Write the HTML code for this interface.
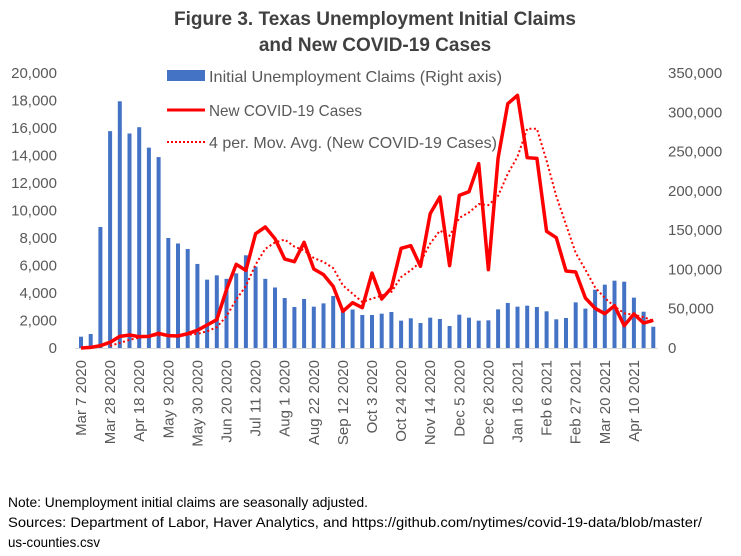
<!DOCTYPE html>
<html><head><meta charset="utf-8">
<style>
body{margin:0;background:#fff;width:741px;height:556px;overflow:hidden;font-family:"Liberation Sans",sans-serif;}
svg{display:block}
</style></head>
<body>
<svg id="chart" width="741" height="556" xmlns="http://www.w3.org/2000/svg">
  <text x="375" y="25" text-anchor="middle" font-size="19" font-weight="bold" fill="#404040">Figure 3. Texas Unemployment Initial Claims</text>
  <text x="375" y="51" text-anchor="middle" font-size="19" font-weight="bold" fill="#404040">and New COVID-19 Cases</text>
  <g id="left-axis"></g>
  <g id="right-axis"></g>
  <g id="bars"></g>
  <line x1="75" y1="348.5" x2="658" y2="348.5" stroke="#d9d9d9" stroke-width="1"/>
  <g id="lines"></g>
  <g id="x-axis"></g>
  <g>
    <rect x="167" y="70" width="38" height="11" fill="#4472c4"/>
    <text x="209" y="82" font-size="16" fill="#595959" textLength="293" lengthAdjust="spacingAndGlyphs">Initial Unemployment Claims (Right axis)</text>
    <line x1="167" y1="110" x2="205" y2="110" stroke="#ff0000" stroke-width="3"/>
    <text x="209" y="116" font-size="16" fill="#595959" textLength="153" lengthAdjust="spacingAndGlyphs">New COVID-19 Cases</text>
    <line x1="167" y1="142" x2="205" y2="142" stroke="#ff0000" stroke-width="2" stroke-dasharray="2,2"/>
    <text x="209" y="148" font-size="16" fill="#595959" textLength="288" lengthAdjust="spacingAndGlyphs">4 per. Mov. Avg. (New COVID-19 Cases)</text>
  </g>
  <text x="8" y="507" font-size="14" fill="#000" textLength="360" lengthAdjust="spacingAndGlyphs">Note: Unemployment initial claims are seasonally adjusted.</text>
  <text x="8" y="527" font-size="14" fill="#000" textLength="694" lengthAdjust="spacingAndGlyphs">Sources: Department of Labor, Haver Analytics, and https://github.com/nytimes/covid-19-data/blob/master/</text>
  <text x="8" y="547" font-size="14" fill="#000" textLength="92" lengthAdjust="spacingAndGlyphs">us-counties.csv</text>
</svg>
<script>
const xLabels = ["Mar 7 2020","Mar 28 2020","Apr 18 2020","May 9 2020","May 30 2020","Jun 20 2020","Jul 11 2020","Aug 1 2020","Aug 22 2020","Sep 12 2020","Oct 3 2020","Oct 24 2020","Nov 14 2020","Dec 5 2020","Dec 26 2020","Jan 16 2021","Feb 6 2021","Feb 27 2021","Mar 20 2021","Apr 10 2021"];
const leftTicks = [0,2000,4000,6000,8000,10000,12000,14000,16000,18000,20000];
const rightTicks = [0,50000,100000,150000,200000,250000,300000,350000];
const claims = [14400,17800,154000,276000,314000,273000,281000,255000,243000,140000,133000,126000,107000,87000,92500,88000,95000,118000,103500,88000,77000,63600,52200,62400,52600,56800,66200,51000,49000,42000,42000,43700,45800,34800,37800,31800,38600,36900,28000,42400,38600,34800,35200,49200,57300,52600,53900,52200,46700,36500,38200,58100,50100,74200,80600,85700,84400,64100,46200,27100];
const cases = [0,48,170,412,848,945,824,848,1067,897,873,1042,1285,1673,2060,4242,6084,5648,8314,8800,7950,6472,6278,7684,5745,5333,4484,2666,3297,2933,5454,3563,4363,7248,7442,5939,9769,10981,5987,11102,11369,13405,5696,13817,17768,18374,13841,13793,8484,8023,5599,5527,3636,2885,2497,3078,1624,2472,1818,2012];

const NS="http://www.w3.org/2000/svg";
const X0=81, DX=9.7, Y0=348, H=275;
const xs=i=>X0+i*DX;
const yL=v=>Y0-v/20000*H;
const yR=v=>Y0-v/350000*H;
function mk(tag,attrs,parent,txt){const e=document.createElementNS(NS,tag);for(const k in attrs)e.setAttribute(k,attrs[k]);if(txt!==undefined)e.textContent=txt;parent.appendChild(e);return e;}
const fmt=v=>v.toLocaleString('en-US');

const la=document.getElementById('left-axis');
leftTicks.forEach(v=>{const t=mk('text',{x:57,y:yL(v)+5,'text-anchor':'end','font-size':15,fill:'#595959'},la,fmt(v));

});
const ra=document.getElementById('right-axis');
rightTicks.forEach(v=>{const t=mk('text',{x:668,y:yR(v)+5,'text-anchor':'start','font-size':15,fill:'#595959'},ra,fmt(v));

});

const bg=document.getElementById('bars');
claims.forEach((v,i)=>{const r=mk('rect',{x:xs(i)-2,y:yR(v),width:4,height:Y0-yR(v),fill:'#4472c4'},bg);

});

const lg=document.getElementById('lines');
const p=mk('polyline',{points:cases.map((v,i)=>xs(i)+','+yL(v)).join(' '),fill:'none',stroke:'#ff0000','stroke-width':3.5,'stroke-linejoin':'round'},lg);


const ma=[];for(let i=3;i<cases.length;i++){ma.push(xs(i)+','+yL((cases[i]+cases[i-1]+cases[i-2]+cases[i-3])/4));}
const m=mk('polyline',{points:ma.join(' '),fill:'none',stroke:'#ff0000','stroke-width':2,'stroke-dasharray':'2,2.5'},lg);



const xa=document.getElementById('x-axis');
xLabels.forEach((s,k)=>{const x=xs(k*3)+5;const t=mk('text',{x:x,y:360,'text-anchor':'end','font-size':15,fill:'#595959',transform:'rotate(-90 '+x+' 360)'},xa,s);

});
</script>
</body></html>
